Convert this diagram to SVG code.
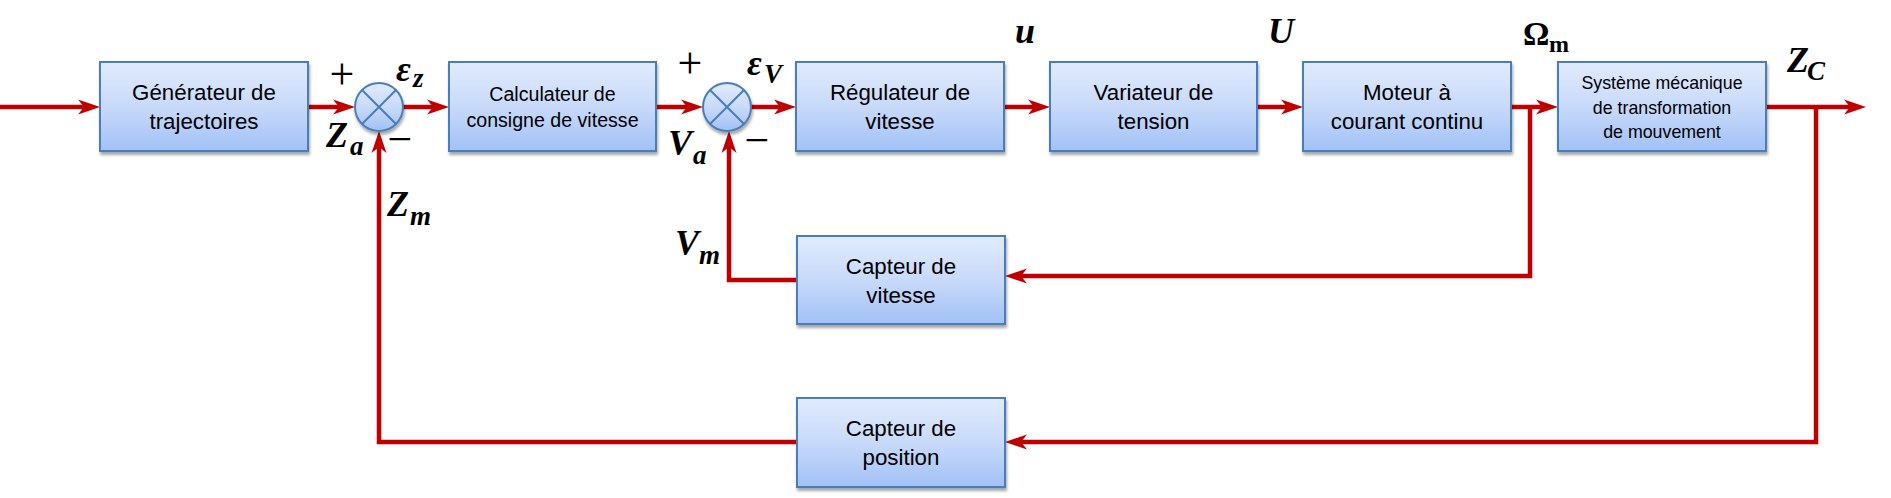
<svg xmlns="http://www.w3.org/2000/svg" width="1891" height="498" viewBox="0 0 1891 498">
<style>
.box{fill:url(#gb);stroke:#4A7EBB;stroke-width:2;filter:url(#sh)}
.sum{fill:url(#gb);stroke:#4A7EBB;stroke-width:2;filter:url(#sh)}
.x{stroke:#4A7EBB;stroke-width:2}
.t{font-family:"Liberation Sans",Arial,sans-serif;font-size:22.3px;fill:#000;text-anchor:middle}
.t2{font-family:"Liberation Sans",Arial,sans-serif;font-size:19.6px;fill:#000;text-anchor:middle}
.t3{font-family:"Liberation Sans",Arial,sans-serif;font-size:17.8px;fill:#000;text-anchor:middle}
.w{fill:none;stroke:#C00000;stroke-width:4.5;stroke-linejoin:miter}
.a{marker-end:url(#arr)}
.m{font-family:"Liberation Serif","Times New Roman",serif;font-weight:bold;font-style:italic;font-size:36px;fill:#000}
.s{font-size:27px}
.g{font-family:"Liberation Serif","Times New Roman",serif;font-weight:bold;font-size:33px;fill:#000}
.op{font-family:"Liberation Serif","Times New Roman",serif;font-size:44px;fill:#000;text-anchor:middle}
</style>
<defs>
<linearGradient id="gb" x1="0" y1="0" x2="0" y2="1">
<stop offset="0" stop-color="#E1EBFD"/>
<stop offset="0.5" stop-color="#C8DAFA"/>
<stop offset="1" stop-color="#A2C1F6"/>
</linearGradient>
<filter id="sh" x="-10%" y="-10%" width="125%" height="130%">
<feDropShadow dx="1" dy="3" stdDeviation="1.5" flood-color="#000" flood-opacity="0.35"/>
</filter>
<marker id="arr" markerUnits="userSpaceOnUse" markerWidth="30" markerHeight="20" viewBox="0 -10 30 20" refX="8" refY="0" orient="auto" overflow="visible">
<path d="M0,-7.5 L22,0 L0,7.5 L6,0 Z" fill="#C00000"/>
</marker>
</defs>

<g id="connectors">
<path class="w a" d="M0,107 L86,107"/>
<path class="w a" d="M308,107 L341,107"/>
<path class="w a" d="M403,107 L435,107"/>
<path class="w a" d="M656,107 L689,107"/>
<path class="w a" d="M751,107 L782,107"/>
<path class="w a" d="M1004,107 L1036,107"/>
<path class="w a" d="M1257,107 L1289,107"/>
<path class="w a" d="M1511,107 L1544,107"/>
<path class="w a" d="M1766,107 L1852,107"/>
<path class="w a" d="M1530,107 L1530,276 L1019,276"/>
<path class="w a" d="M1816,107 L1816,442 L1019,442"/>
<path class="w a" d="M797,280 L729,280 L729,145"/>
<path class="w a" d="M797,442 L379,442 L379,145"/>
</g>

<g id="generateur">
<rect class="box" x="100" y="62" width="208" height="89"/>
<text class="t" x="204" y="100">Générateur de</text>
<text class="t" x="204" y="129">trajectoires</text>
</g>
<g id="sum1">
<circle class="sum" cx="379" cy="107" r="24"/>
<path class="x" d="M362,90 L396,124 M396,90 L362,124"/>
</g>
<g id="calculateur">
<rect class="box" x="449" y="62" width="207" height="89"/>
<text class="t2" x="552.5" y="100.5">Calculateur de</text>
<text class="t2" x="552.5" y="127">consigne de vitesse</text>
</g>
<g id="sum2">
<circle class="sum" cx="727" cy="107" r="24"/>
<path class="x" d="M710,90 L744,124 M744,90 L710,124"/>
</g>
<g id="regulateur">
<rect class="box" x="796" y="62" width="208" height="89"/>
<text class="t" x="900" y="100">Régulateur de</text>
<text class="t" x="900" y="129">vitesse</text>
</g>
<g id="variateur">
<rect class="box" x="1050" y="62" width="207" height="89"/>
<text class="t" x="1153.5" y="100">Variateur de</text>
<text class="t" x="1153.5" y="129">tension</text>
</g>
<g id="moteur">
<rect class="box" x="1303" y="62" width="208" height="89"/>
<text class="t" x="1407" y="100">Moteur à</text>
<text class="t" x="1407" y="129">courant continu</text>
</g>
<g id="systeme">
<rect class="box" x="1558" y="62" width="208" height="89"/>
<text class="t3" x="1662" y="89">Système mécanique</text>
<text class="t3" x="1662" y="113.5">de transformation</text>
<text class="t3" x="1662" y="138">de mouvement</text>
</g>
<g id="capteur-vitesse">
<rect class="box" x="797" y="236" width="208" height="88"/>
<text class="t" x="901" y="273.5">Capteur de</text>
<text class="t" x="901" y="302.5">vitesse</text>
</g>
<g id="capteur-position">
<rect class="box" x="797" y="398" width="208" height="89"/>
<text class="t" x="901" y="436">Capteur de</text>
<text class="t" x="901" y="465">position</text>
</g>

<g id="labels">
<text class="op" x="342" y="89">+</text>
<text class="op" x="400" y="154">−</text>
<text class="op" x="690" y="78">+</text>
<text class="op" x="757" y="155">−</text>
<text class="m" x="396" y="81">ε<tspan class="s" x="413" y="87">z</tspan></text>
<text class="m" x="747" y="75">ε<tspan class="s" x="764" y="83">V</tspan></text>
<text class="m" x="326" y="147">Z<tspan class="s" x="350" y="155">a</tspan></text>
<text class="m" x="387" y="216">Z<tspan class="s" x="410" y="225">m</tspan></text>
<text class="m" x="668" y="155">V<tspan class="s" x="693" y="164">a</tspan></text>
<text class="m" x="675" y="255">V<tspan class="s" x="699" y="264">m</tspan></text>
<text class="m" x="1015" y="43">u</text>
<text class="m" x="1268" y="43">U</text>
<text class="g" x="1523" y="45">Ω<tspan font-size="24px" x="1549" y="52">m</tspan></text>
<text class="m" x="1787" y="72">Z<tspan class="s" x="1807" y="80">C</tspan></text>
</g>
</svg>
